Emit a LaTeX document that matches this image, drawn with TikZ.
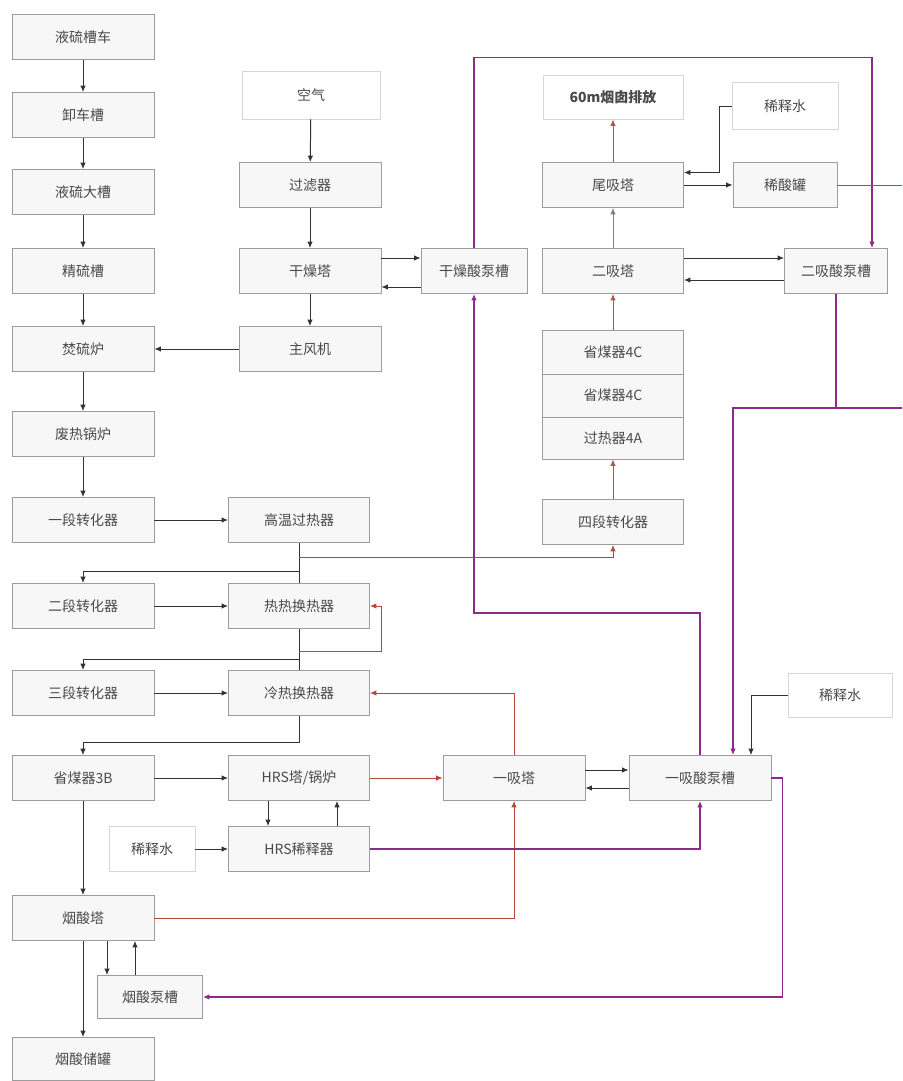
\documentclass[tikz,border=0pt]{standalone}
\usepackage{fontspec}
\setmainfont{Noto Sans CJK SC}
\usetikzlibrary{arrows.meta,positioning}
\definecolor{ink}{HTML}{4A4A4A}
\definecolor{frame}{HTML}{9C9C9C}
\definecolor{paper}{HTML}{F7F7F7}
\definecolor{faint}{HTML}{D6D6D6}
\definecolor{line}{HTML}{333333}
\definecolor{gas}{HTML}{B5483A}
\definecolor{acid}{HTML}{8E2A8E}

\begin{document}
\begin{tikzpicture}[
  x=1pt, y=-1pt,
  font=\fontsize{14}{16}\selectfont,
  unit/.style={
    draw=frame, line width=0.8pt, fill=paper, text=ink,
    minimum width=142pt, minimum height=45pt, inner sep=0pt
  },
  feed/.style={
    draw=faint, line width=0.8pt, fill=white, text=ink,
    minimum width=106pt, minimum height=46pt, inner sep=0pt
  },
  arrow/.style={-{Latex[length=6.5pt,width=5.5pt]}, line width=1pt, draw=line},
  pipe/.style={line width=1pt, draw=line},
  gasflow/.style={-{Latex[length=6.5pt,width=5.5pt]}, line width=0.9pt, draw=gas},
  gasline/.style={line width=0.9pt, draw=gas},
  acidflow/.style={-{Latex[length=6.5pt,width=5.5pt]}, line width=1.6pt, draw=acid},
  acidline/.style={line width=1.6pt, draw=acid}
]
\useasboundingbox[fill=white] (0,0) rectangle (902,1081);

% sulfur line
\node[unit] (tanker)    at (83,37)   {液硫槽车};
\node[unit] (unload)    at (83,115)  {卸车槽};
\node[unit] (bigtank)   at (83,192)  {液硫大槽};
\node[unit] (fine)      at (83,271)  {精硫槽};
\node[unit] (furnace)   at (83,349)  {焚硫炉};
\node[unit] (boiler)    at (83,434)  {废热锅炉};
\node[unit] (conv1)     at (83,520)  {一段转化器};
\node[unit] (conv2)     at (83,606)  {二段转化器};
\node[unit] (conv3)     at (83,693)  {三段转化器};
\node[unit] (eco3b)     at (83,778)  {省煤器3B};
\node[unit] (oleum)     at (83,918)  {烟酸塔};
\node[unit, minimum width=105pt, minimum height=43pt]
  (oleumpump) at (150,997) {烟酸泵槽};
\node[unit, minimum height=43pt] (oleumtank) at (83,1059) {烟酸储罐};

% air line
\node[feed, minimum width=138pt, minimum height=48pt] (air) at (311,95) {空气};
\node[unit] (filter)    at (310,185) {过滤器};
\node[unit] (dryer)     at (310,271) {干燥塔};
\node[unit] (blower)    at (310,349) {主风机};
\node[unit, minimum width=106pt] (drypump) at (474,271) {干燥酸泵槽};

% heat exchange
\node[unit, minimum width=141pt] (hts)    at (299,520) {高温过热器};
\node[unit, minimum width=141pt] (hhx)    at (299,606) {热热换热器};
\node[unit, minimum width=141pt] (chx)    at (299,693) {冷热换热器};
\node[unit, minimum width=141pt] (hrs)    at (299,778) {HRS塔/锅炉};
\node[unit, minimum width=141pt] (hrsdil) at (299,849) {HRS稀释器};
\node[feed, minimum width=86pt, minimum height=45pt] (water1) at (152,849) {稀释水};

% absorption
\node[unit] (abs1)     at (514,778) {一吸塔};
\node[unit] (abs1pump) at (700,778) {一吸酸泵槽};
\node[feed, minimum width=104pt, minimum height=44pt] (water2) at (840,695) {稀释水};

% fourth pass and tail
\node[feed, minimum width=140pt, minimum height=44pt, font=\fontsize{14}{16}\selectfont\bfseries]
  (chimney) at (613,97) {60m烟囱排放};
\node[feed, minimum width=106pt, minimum height=47pt] (water3) at (785,106) {稀释水};
\node[unit, minimum width=141pt] (tail)     at (613,185) {尾吸塔};
\node[unit, minimum width=104pt] (dilacid)  at (785,185) {稀酸罐};
\node[unit, minimum width=141pt] (abs2)     at (613,271) {二吸塔};
\node[unit, minimum width=103pt] (abs2pump) at (836,271) {二吸酸泵槽};
\node[unit, minimum width=141pt, minimum height=44pt] (eco4a) at (613,352) {省煤器4C};
\node[unit, minimum width=141pt, minimum height=43pt] (eco4b) at (613,395.5) {省煤器4C};
\node[unit, minimum width=141pt, minimum height=42pt] (sh4a)  at (613,438) {过热器4A};
\node[unit, minimum width=141pt] (conv4) at (613,522) {四段转化器};

% sulfur chain
\draw[arrow] (tanker) -- (unload);
\draw[arrow] (unload) -- (bigtank);
\draw[arrow] (bigtank) -- (fine);
\draw[arrow] (fine) -- (furnace);
\draw[arrow] (furnace) -- (boiler);
\draw[arrow] (boiler) -- (conv1);

% air chain
\draw[arrow] (air) -- (filter);
\draw[arrow] (filter) -- (dryer);
\draw[arrow] (dryer) -- (blower);
\draw[arrow] (blower) -- (furnace);
\draw[arrow] ([yshift=13pt]dryer.east) -- ([yshift=13pt]drypump.west);
\draw[arrow] ([yshift=-16pt]drypump.west) -- ([yshift=-16pt]dryer.east);

% converter passes
\draw[arrow] (conv1) -- (hts);
\draw[pipe] (hts.south) -- (hhx.north);
\coordinate (split1) at (299,571);
\draw[arrow] (split1) -| (conv2.north);
\coordinate (split2) at (299,557);
\draw[gasflow] (split2) -| (conv4.south);

\draw[arrow] (conv2) -- (hhx);
\draw[pipe] (hhx.south) -- (chx.north);
\coordinate (split3) at (299,659);
\draw[arrow] (split3) -| (conv3.north);
\coordinate (split4) at (299,651);
\draw[gasflow] (split4) -| ([xshift=12pt]hhx.east) -- (hhx.east);

\draw[arrow] (conv3) -- (chx);
\draw[arrow] (chx.south) -- ++(0,27) -| (eco3b.north);
\draw[gasflow] (abs1.north) |- (chx.east);

% HRS and oleum
\draw[arrow] (eco3b) -- (hrs);
\draw[gasflow] (hrs) -- (abs1);
\draw[arrow] ([xshift=-31pt]hrs.south) -- ([xshift=-31pt]hrsdil.north);
\draw[arrow] ([xshift=38pt]hrsdil.north) -- ([xshift=38pt]hrs.south);
\draw[arrow] (water1) -- (hrsdil);
\draw[arrow] (eco3b) -- (oleum);
\draw[arrow] (oleum) -- (oleumtank);
\coordinate (odown) at ([xshift=24pt]oleum.south);
\draw[arrow] (odown) -- (odown |- oleumpump.north);
\coordinate (oup) at ([xshift=-15pt]oleumpump.north);
\draw[arrow] (oup) -- (oup |- oleum.south);
\draw[gasflow] (oleum.east) -| (abs1.south);

% first absorption
\draw[arrow] ([yshift=8pt]abs1.east) -- ([yshift=8pt]abs1pump.west);
\draw[arrow] ([yshift=-10pt]abs1pump.west) -- ([yshift=-10pt]abs1.east);
\coordinate (w2in) at ([xshift=51pt]abs1pump.north);
\draw[arrow] (water2.west) -| (w2in);
\draw[acidflow] (hrsdil.east) -| (abs1pump.south);
\draw[acidflow] (abs1pump.east) -- ++(11,0) |- (oleumpump.east);
\draw[acidflow] (abs1pump.north) -- ++(0,-142) -| (drypump.south);
\coordinate (p2in) at ([xshift=36pt]abs2pump.north);
\draw[acidflow] (drypump.north) -- ++(0,-190.5) -| (p2in);
\draw[acidline] (abs2pump.south) -- ++(0,115);
\coordinate (rightedge1) at (902,408);
\coordinate (p1in) at ([xshift=33pt]abs1pump.north);
\draw[acidflow] (rightedge1) -| (p1in);

% second absorption and tail gas
\draw[gasflow, draw=gas!70!gray] (conv4) -- (sh4a);
\draw[gasflow, draw=gas!70!gray] (eco4a) -- (abs2);
\draw[gasflow, draw=gray] (abs2) -- (tail);
\draw[gasflow, draw=gas!70!gray] (tail) -- (chimney);
\draw[arrow] ([yshift=13pt]abs2.east) -- ([yshift=13pt]abs2pump.west);
\draw[arrow] ([yshift=-9pt]abs2pump.west) -- ([yshift=-9pt]abs2.east);
\draw[arrow] (tail) -- (dilacid);
\draw[arrow] (water3.west) -- ++(-12,0) |- ([yshift=12.5pt]tail.east);
\coordinate (rightedge2) at (902,185);
\draw[gasline] (dilacid.east) -- (dilacid.east -| rightedge2);

\end{tikzpicture}
\end{document}
